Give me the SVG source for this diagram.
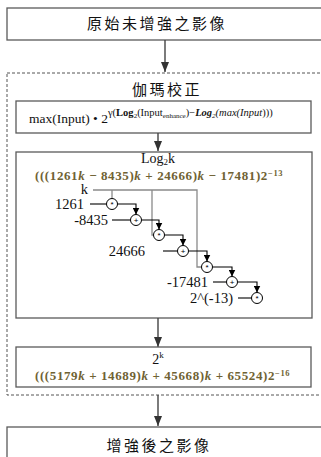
<svg xmlns="http://www.w3.org/2000/svg" width="321" height="457" viewBox="0 0 321 457">
<style>
.box{fill:#fff;stroke:#5a5a5a;stroke-width:1.3}
.dash{fill:none;stroke:#555;stroke-width:1;stroke-dasharray:3,2}
.cjk{font-family:"Noto Sans CJK TC","Noto Sans CJK SC",sans-serif;font-size:15px;fill:#111;text-anchor:middle;letter-spacing:2.5px}
.ser{font-family:"Liberation Serif",serif;fill:#111}
.lbl{font-family:"Liberation Serif",serif;font-size:14.5px;fill:#111;text-anchor:end}
.ol{font-family:"Liberation Serif",serif;font-size:13px;fill:#6f6233;font-weight:bold;letter-spacing:0.6px}
.big{fill:none;stroke:#444;stroke-width:1.4}
.blk{fill:none;stroke:#000;stroke-width:1.1}
.gry{fill:none;stroke:#8a8a8a;stroke-width:1.3}
.op{fill:#fff;stroke:#000;stroke-width:1}
.sym{font-family:"Liberation Sans",sans-serif;font-size:8px;fill:#000;text-anchor:middle}
</style>
<defs>
<marker id="ab" viewBox="0 0 10 8" refX="10" refY="4" markerWidth="10" markerHeight="8" markerUnits="userSpaceOnUse" orient="auto"><path d="M0,0 L10,4 L0,8 z" fill="#333"/></marker>
<marker id="as" viewBox="0 0 7 7" refX="7" refY="3.5" markerWidth="7" markerHeight="7" markerUnits="userSpaceOnUse" orient="auto"><path d="M0,0 L7,3.5 L0,7 z" fill="#000"/></marker>
</defs>

<g id="input">
<rect class="box" x="7" y="8" width="330" height="32"/>
<text class="cjk" x="157" y="29">原始未增強之影像</text>
</g>

<g id="gamma">
<rect class="dash" x="7" y="73" width="330" height="322"/>
<text class="cjk" x="167" y="95">伽瑪校正</text>
</g>

<g id="formula">
<rect class="box" x="16" y="101" width="295" height="32"/>
<text class="ser" x="29" y="123" font-size="13.5" fill="#222">max(Input) • 2<tspan font-size="10.5" dy="-7">γ(<tspan font-weight="bold">Log</tspan><tspan font-size="7" dy="2">2</tspan><tspan dy="-2">(Input</tspan><tspan font-size="7" dy="2">enhance</tspan><tspan dy="-2">)−</tspan><tspan font-style="italic" font-weight="bold">Log</tspan><tspan font-size="7" dy="2" font-style="italic">2</tspan><tspan dy="-2" font-style="italic">(max(Input</tspan>)))</tspan></text>
</g>

<g id="log2k">
<rect class="box" x="16" y="152" width="296" height="166"/>
<text class="ser" x="158" y="163" font-size="14" text-anchor="middle">Log<tspan font-size="9" dy="2">2</tspan><tspan dy="-2">k</tspan></text>
<text class="ol" x="35" y="180">(((1261<tspan font-style="italic">k</tspan> − 8435)<tspan font-style="italic">k</tspan> + 24666)<tspan font-style="italic">k</tspan> − 17481)2<tspan font-size="8.5" dy="-4">−13</tspan></text>
</g>

<g id="labels">
<text class="lbl" x="88" y="194">k</text>
<text class="lbl" x="84" y="209">1261</text>
<text class="lbl" x="108" y="225">-8435</text>
<text class="lbl" x="145" y="256">24666</text>
<text class="lbl" x="208" y="287">-17481</text>
<text class="lbl" x="233" y="303">2^(-13)</text>
</g>

<g id="connectors">
<line class="big" x1="165" y1="40" x2="165" y2="72" marker-end="url(#ab)"/>
<line class="big" x1="158" y1="133" x2="158" y2="151" marker-end="url(#ab)"/>
<line class="big" x1="158" y1="318" x2="158" y2="347" marker-end="url(#ab)"/>
<line class="big" x1="158" y1="395" x2="158" y2="426" marker-end="url(#ab)"/>
<path class="gry" d="M93,190 H197 V267 H201.5"/>
<path class="gry" d="M112,190 V198.5"/>
<path class="gry" d="M152,190 V235 H153.5"/>
<path class="blk" d="M90,204 H106.5"/>
<path class="blk" d="M112,220 H130.5"/>
<path class="blk" d="M163,251 H177.5"/>
<path class="blk" d="M213,282 H226.5"/>
<path class="blk" d="M238,298 H251.5"/>
<path class="blk" d="M117.5,204 H136 V214.5" marker-end="url(#as)"/>
<path class="blk" d="M141.5,220 H159 V229.5" marker-end="url(#as)"/>
<path class="blk" d="M164.5,235 H183 V245.5" marker-end="url(#as)"/>
<path class="blk" d="M188.5,251 H207 V261.5" marker-end="url(#as)"/>
<path class="blk" d="M212.5,267 H232 V276.5" marker-end="url(#as)"/>
<path class="blk" d="M237.5,282 H257 V292.5" marker-end="url(#as)"/>
</g>

<g id="ops">
<circle class="op" cx="112" cy="204" r="5.5"/><text class="sym" x="112" y="207">*</text>
<circle class="op" cx="136" cy="220" r="5.5"/><text class="sym" x="136" y="223">+</text>
<circle class="op" cx="159" cy="235" r="5.5"/><text class="sym" x="159" y="238">*</text>
<circle class="op" cx="183" cy="251" r="5.5"/><text class="sym" x="183" y="254">+</text>
<circle class="op" cx="207" cy="267" r="5.5"/><text class="sym" x="207" y="270">*</text>
<circle class="op" cx="232" cy="282" r="5.5"/><text class="sym" x="232" y="285">+</text>
<circle class="op" cx="257" cy="298" r="5.5"/><text class="sym" x="257" y="301">*</text>
</g>

<g id="exp2k">
<rect class="box" x="16" y="347" width="295" height="40"/>
<text class="ser" x="158" y="364" font-size="14" text-anchor="middle">2<tspan font-size="9" dy="-6">k</tspan></text>
<text class="ol" x="35" y="380">(((5179<tspan font-style="italic">k</tspan> + 14689)<tspan font-style="italic">k</tspan> + 45668)<tspan font-style="italic">k</tspan> + 65524)2<tspan font-size="8.5" dy="-4">−16</tspan></text>
</g>

<g id="output">
<rect class="box" x="7" y="427" width="330" height="50"/>
<text class="cjk" x="159" y="451">增強後之影像</text>
</g>
</svg>
